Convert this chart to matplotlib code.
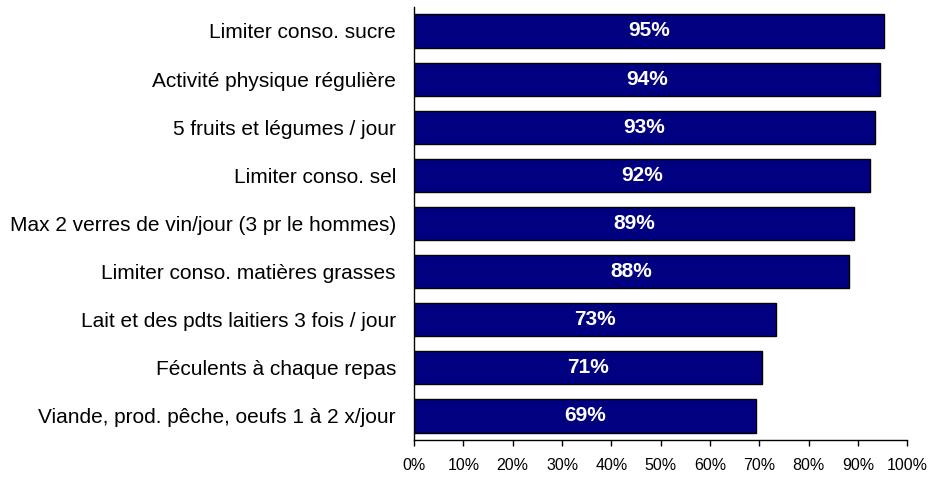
import matplotlib
matplotlib.use("Agg")
import matplotlib.pyplot as plt

plt.rcParams["font.family"] = ["Liberation Sans", "DejaVu Sans"]

categories = [
    "Limiter conso. sucre",
    "Activité physique régulière",
    "5 fruits et légumes / jour",
    "Limiter conso. sel",
    "Max 2 verres de vin/jour (3 pr le hommes)",
    "Limiter conso. matières grasses",
    "Lait et des pdts laitiers 3 fois / jour",
    "Féculents à chaque repas",
    "Viande, prod. pêche, oeufs 1 à 2 x/jour",
]
values = [95.2, 94.5, 93.4, 92.4, 89.1, 88.2, 73.3, 70.6, 69.4]
value_labels = ["95%", "94%", "93%", "92%", "89%", "88%", "73%", "71%", "69%"]
xticks = [0, 10, 20, 30, 40, 50, 60, 70, 80, 90, 100]

fig = plt.figure(figsize=(9.31, 4.78), dpi=100)
ax = fig.add_axes([0.4447, 0.0795, 0.53, 0.906])

pos = list(range(len(categories)))
bars = ax.barh(pos, values, height=0.69, color="#000080",
               edgecolor="black", linewidth=1)

for b, lab in zip(bars, value_labels):
    ax.text(b.get_width() / 2, b.get_y() + b.get_height() / 2, lab,
            ha="center", va="center", color="white",
            fontsize=15, fontweight="bold")

ax.set_yticks(pos)
ax.set_yticklabels(categories, fontsize=15)
ax.set_ylim(len(categories) - 0.5, -0.5)
ax.tick_params(axis="y", length=0, pad=13)

ax.set_xlim(0, 100)
ax.set_xticks(xticks)
ax.set_xticklabels([f"{t}%" for t in xticks], fontsize=11.5)
ax.tick_params(axis="x", direction="out", length=4, width=1, pad=9)

for s in ["top", "right"]:
    ax.spines[s].set_visible(False)
ax.spines["left"].set_linewidth(1)
ax.spines["bottom"].set_linewidth(1)

fig.savefig("out.png", dpi=100)
